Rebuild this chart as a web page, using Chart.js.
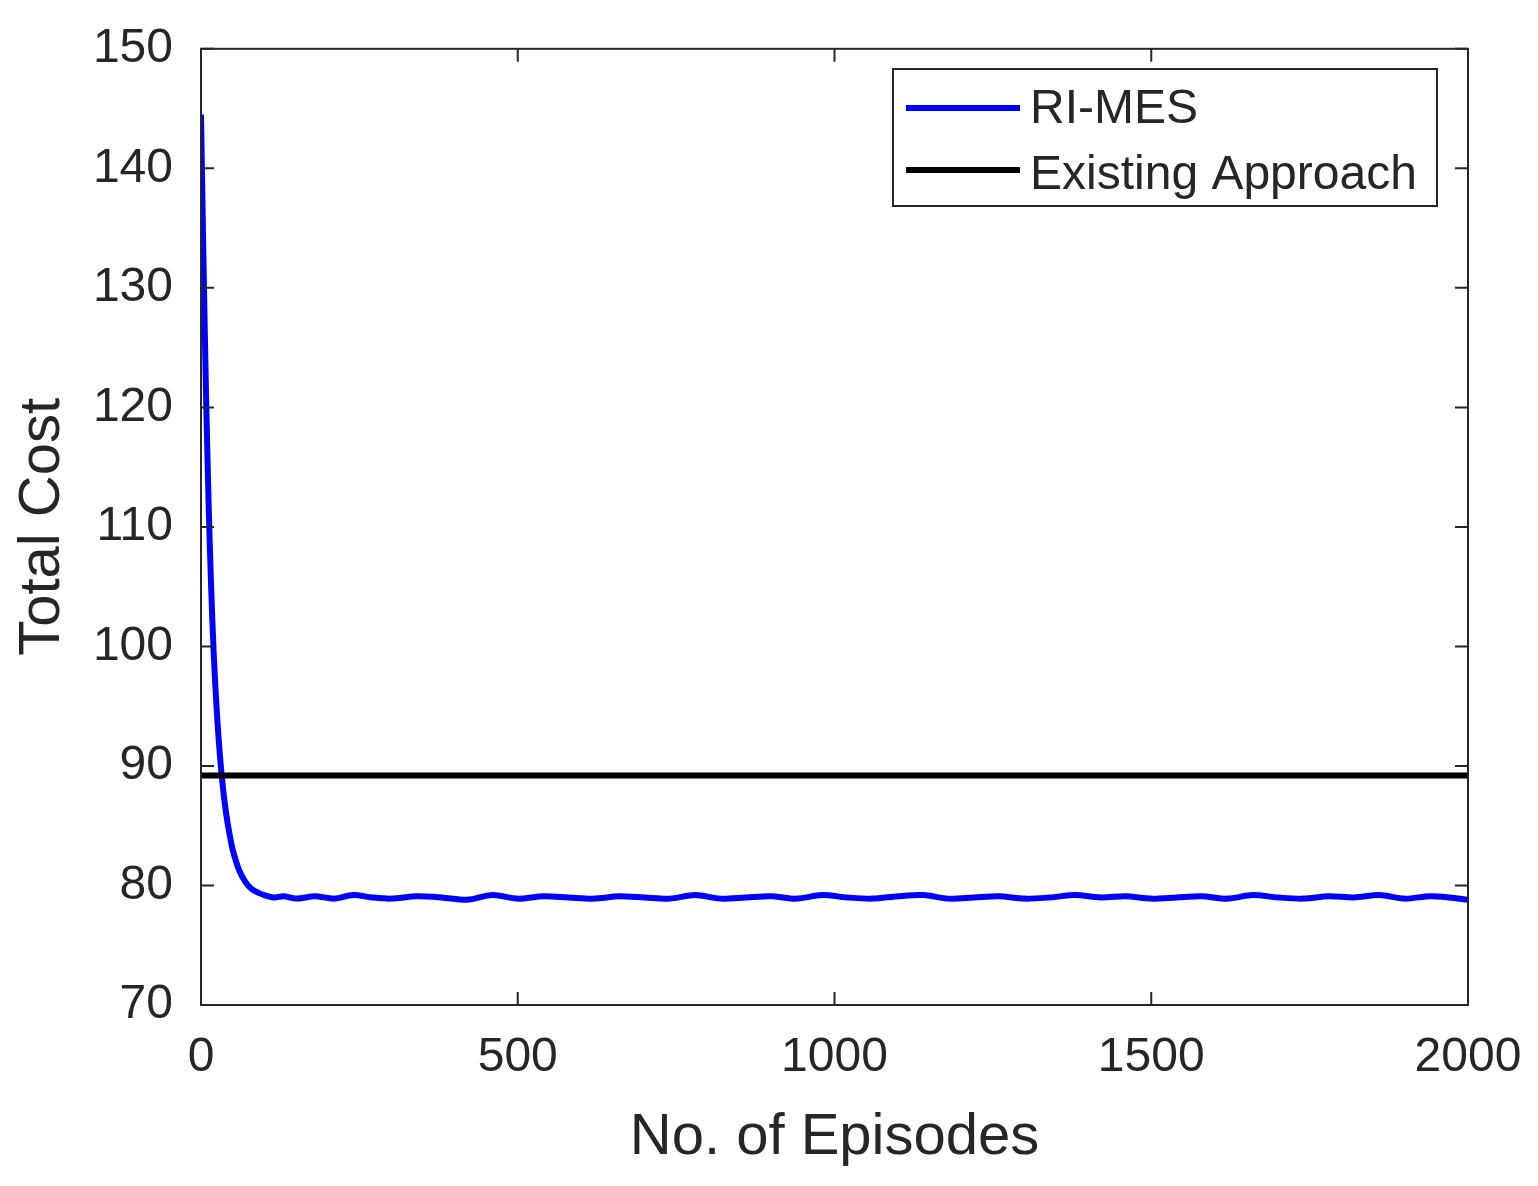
<!DOCTYPE html>
<html>
<head>
<meta charset="utf-8">
<script src="https://cdn.jsdelivr.net/npm/chart.js@4"></script>
<style>
  html, body { margin: 0; padding: 0; background: #fff; }
  #wrap { width: 1538px; height: 1186px; }
</style>
</head>
<body>
<div id="wrap"><canvas id="c" width="1538" height="1186"></canvas></div>
<script>
// values
const episodes = [0, 4, 8, 12, 16, 20, 25, 30, 35, 40, 45, 50, 60, 70, 80, 90, 100, 115, 130, 150,
  180, 210, 240, 270, 300, 340, 380, 420, 460, 500, 540, 580, 620, 660, 700, 740, 780, 820,
  860, 900, 940, 980, 1020, 1060, 1100, 1140, 1180, 1220, 1260, 1300, 1340, 1380, 1420,
  1460, 1500, 1540, 1580, 1620, 1660, 1700, 1740, 1780, 1820, 1860, 1900, 1940, 1970, 2000]
const riMes = [144.5, 132, 121, 112, 105, 99.5, 94.5, 90.8, 88, 85.9, 84.3, 83, 81.3, 80.3, 79.7, 79.4, 79.2, 79.0, 79.1, 78.9,
  79.1, 78.9, 79.2, 79.0, 78.9, 79.1, 79.0, 78.8, 79.2, 78.9, 79.1, 79.0, 78.9, 79.1, 79.0, 78.9, 79.2, 78.9,
  79.0, 79.1, 78.9, 79.2, 79.0, 78.9, 79.1, 79.2, 78.9, 79.0, 79.1, 78.9, 79.0, 79.2, 79.0,
  79.1, 78.9, 79.0, 79.1, 78.9, 79.2, 79.0, 78.9, 79.1, 79.0, 79.2, 78.9, 79.1, 79.0, 78.8]
const existingValue = 89.2
const xTicks = [0, 500, 1000, 1500, 2000]
const yTicks = [70, 80, 90, 100, 110, 120, 130, 140, 150]

const FONT = '"Liberation Sans", Arial, sans-serif'
const TXT = '#262626'

const frame = {
  id: 'frame',
  afterDraw(chart) {
    const { ctx, chartArea: a, scales: { x, y } } = chart
    ctx.save()
    ctx.strokeStyle = '#262626'
    ctx.lineWidth = 2
    ctx.strokeRect(a.left, a.top, a.right - a.left, a.bottom - a.top)
    const t = 13
    ctx.beginPath()
    xTicks.forEach(v => {
      const px = x.getPixelForValue(v)
      ctx.moveTo(px, a.bottom); ctx.lineTo(px, a.bottom - t)
      ctx.moveTo(px, a.top); ctx.lineTo(px, a.top + t)
    })
    yTicks.forEach(v => {
      const py = y.getPixelForValue(v)
      ctx.moveTo(a.left, py); ctx.lineTo(a.left + t, py)
      ctx.moveTo(a.right, py); ctx.lineTo(a.right - t, py)
    })
    ctx.stroke()

    // axis titles
    ctx.fillStyle = TXT
    ctx.font = '58px ' + FONT
    ctx.textAlign = 'center'
    ctx.textBaseline = 'middle'
    ctx.fillText('No. of Episodes', (a.left + a.right) / 2, 1138)
    ctx.translate(43, (a.top + a.bottom) / 2)
    ctx.rotate(-Math.PI / 2)
    ctx.fillText('Total Cost', 0, 0)
    ctx.setTransform(1, 0, 0, 1, 0, 0)

    // legend
    ctx.fillStyle = '#fff'
    ctx.fillRect(893, 69, 544, 137)
    ctx.lineWidth = 2
    ctx.strokeStyle = '#262626'
    ctx.strokeRect(893, 69, 544, 137)
    ctx.lineWidth = 6
    ctx.strokeStyle = '#0000ff'
    ctx.beginPath(); ctx.moveTo(906, 108); ctx.lineTo(1020, 108); ctx.stroke()
    ctx.strokeStyle = '#000'
    ctx.beginPath(); ctx.moveTo(906, 170); ctx.lineTo(1020, 170); ctx.stroke()
    ctx.fillStyle = TXT
    ctx.font = '48px ' + FONT
    ctx.textAlign = 'left'
    ctx.fillText('RI-MES', 1030, 110)
    ctx.fillText('Existing Approach', 1030, 176)
    ctx.restore()
  }
}

new Chart(document.getElementById('c').getContext('2d'), {
  type: 'line',
  data: {
    datasets: [
      { label: 'Existing Approach', data: [{ x: 0, y: existingValue }, { x: 2000, y: existingValue }],
        borderColor: '#000', borderWidth: 6, pointRadius: 0 },
      { label: 'RI-MES', data: episodes.map((e, i) => ({ x: e, y: riMes[i] })),
        borderColor: '#0000ff', borderWidth: 6, pointRadius: 0, tension: 0.3 }
    ]
  },
  options: {
    responsive: false,
    animation: false,
    layout: { padding: { top: 40, right: 70, left: 0, bottom: 0 } },
    plugins: { legend: { display: false }, tooltip: { enabled: false } },
    scales: {
      x: {
        type: 'linear', min: 0, max: 2000,
        afterFit(s) { s.height = 181 },
        afterBuildTicks(s) { s.ticks = xTicks.map(v => ({ value: v })) },
        grid: { display: false },
        border: { display: false },
        ticks: { color: TXT, font: { size: 48, family: FONT }, padding: 16, maxRotation: 0,
          callback: v => String(v) }
      },
      y: {
        min: 70, max: 150,
        afterFit(s) { s.width = 201 },
        afterBuildTicks(s) { s.ticks = yTicks.map(v => ({ value: v })) },
        grid: { display: false },
        border: { display: false },
        ticks: { color: TXT, font: { size: 48, family: FONT }, padding: 20,
          callback: v => String(v) }
      }
    }
  },
  plugins: [frame]
})
</script>
</body>
</html>
